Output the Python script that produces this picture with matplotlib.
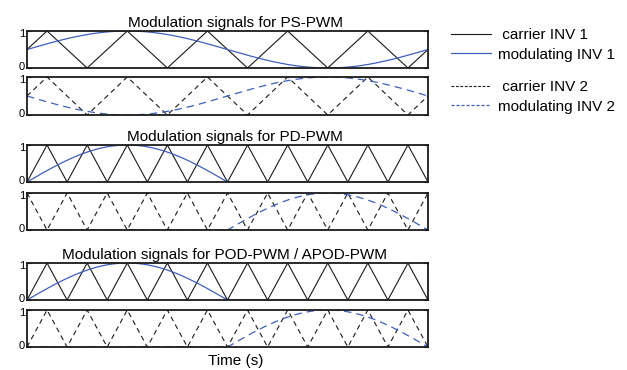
import numpy as np
import matplotlib
matplotlib.use("Agg")
import matplotlib.pyplot as plt
import matplotlib.transforms as mtransforms
from matplotlib.lines import Line2D

plt.rcParams['font.family'] = ['Liberation Sans', 'DejaVu Sans']

# Datos de la figura (tiempo normalizado en un periodo de la moduladora)
t_end = 0.02
f_mod = 1 / t_end
carriers_ps = 5          # periodos de portadora en PS-PWM
carriers_pd = 10         # periodos de portadora en PD / POD
ps_start = 0.5           # valor inicial de la portadora PS (subiendo)

titles = ["Modulation signals for PS-PWM",
          "Modulation signals for PD-PWM",
          "Modulation signals for POD-PWM / APOD-PWM"]
title_x = [235, 235, 224]
labels_inv1 = [" carrier INV 1", "modulating INV 1"]
labels_inv2 = [" carrier INV 2", "modulating INV 2"]
yticks = [0, 1]
ytick_labels = ["0", "1"]

blue = '#3f5fbf'
black = '#1a1a1a'

t = np.linspace(0, t_end, 4001)
s = np.sin(2 * np.pi * f_mod * t)


def triangle(n_per, start_val, rising=True):
    # vertices de una portadora triangular
    T = t_end / n_per
    if start_val == 0.5:
        tv = [0] + [T / 4 + k * T / 2 for k in range(2 * n_per)] + [t_end]
        vv = [0.5] + [1, 0] * n_per + [0.5]
    else:
        tv = [k * T / 2 for k in range(2 * n_per + 1)]
        vv = [0, 1] * n_per + [0]
    vv = np.array(vv, dtype=float)
    if not rising:
        vv = 1 - vv
    return np.array(tv), vv


# señales por panel
ps_c1 = triangle(carriers_ps, ps_start)
ps_c2 = triangle(carriers_ps, ps_start)
ps_m1 = 0.5 + 0.5 * s
ps_m2 = 0.5 - 0.5 * s

pd_c1 = triangle(carriers_pd, 0)
pd_c2 = triangle(carriers_pd, 0, rising=False)
pd_m1 = np.clip(s, 0, None)
pd_m2 = np.clip(-s, 0, None)

pod_c1 = triangle(carriers_pd, 0)
pod_c2 = triangle(carriers_pd, 0)
pod_m1 = np.clip(s, 0, None)
pod_m2 = np.clip(-s, 0, None)

panels = [(ps_c1, ps_m1, False), (ps_c2, ps_m2, True),
          (pd_c1, pd_m1, False), (pd_c2, pd_m2, True),
          (pod_c1, pod_m1, False), (pod_c2, pod_m2, True)]

W, H = 627, 370
fig = plt.figure(figsize=(W / 100, H / 100), dpi=100)

left, right = 27, 428
boxes = [(31, 68), (77, 115), (145, 182), (193, 230), (263, 300), (310, 347)]

axes = []
for i, ((top, bot), (car, mod, dashed)) in enumerate(zip(boxes, panels)):
    ax = fig.add_axes([left / W, 1 - bot / H, (right - left) / W, (bot - top) / H])
    if dashed:
        ax.plot(car[0], car[1], color=black, lw=0.8, dashes=(4.5, 3.5))
        ax.plot(t, mod, color=blue, lw=0.9, dashes=(6, 4))
    else:
        ax.plot(car[0], car[1], color=black, lw=0.8)
        ax.plot(t, mod, color=blue, lw=0.9)
    ax.set_xlim(0, t_end)
    ax.set_ylim(0, 1)
    ax.set_xticks([])
    ax.set_yticks(yticks)
    ax.set_yticklabels(ytick_labels)
    ax.tick_params(axis='y', direction='in', length=3, pad=1.5, labelsize=8,
                   right=True, width=0.8)
    # acercar un poco las etiquetas 0 y 1 hacia el interior del panel
    for lab, dy in zip(ax.get_yticklabels(), [2, -2]):
        lab.set_transform(lab.get_transform() +
                          mtransforms.ScaledTranslation(0, dy / 100, fig.dpi_scale_trans))
    for sp in ax.spines.values():
        sp.set_linewidth(1.3)
        sp.set_color(black)
    if i % 2 == 0:
        k = i // 2
        ax.set_title(titles[k], fontsize=11, pad=3,
                     x=(title_x[k] - left) / (right - left))
    axes.append(ax)

fig.text(236 / W, 1 - 361 / H, "Time (s)", fontsize=11, ha='center', va='center')

h1 = [Line2D([], [], color=black, lw=0.8), Line2D([], [], color=blue, lw=0.9)]
h2 = [Line2D([], [], color=black, lw=0.8, dashes=(2.5, 1.5)),
      Line2D([], [], color=blue, lw=0.9, dashes=(2.5, 1.5))]

leg_kw = dict(loc='upper left', bbox_transform=fig.transFigure, frameon=False,
              borderpad=0, borderaxespad=0, handlelength=2.6, handletextpad=0.5,
              labelspacing=0.38, fontsize=11)
axes[0].legend(h1, labels_inv1, bbox_to_anchor=(451 / W, 1 - 28 / H), **leg_kw)
axes[1].legend(h2, labels_inv2, bbox_to_anchor=(451 / W, 1 - 80 / H), **leg_kw)

plt.savefig("out.png", dpi=100)
